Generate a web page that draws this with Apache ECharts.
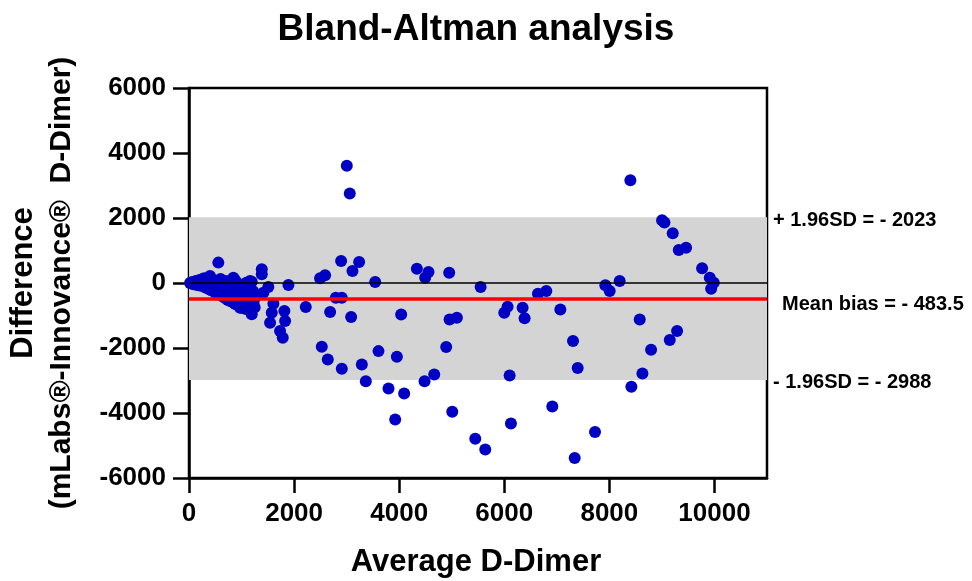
<!DOCTYPE html>
<html>
<head>
<meta charset="utf-8">
<script src="https://cdn.jsdelivr.net/npm/echarts@6/dist/echarts.min.js"></script>
<style>html,body{margin:0;padding:0;background:#fff;}#c{width:972px;height:581px;}</style>
</head>
<body>
<div id="c"></div>
<script>
// ---- data ----
const titleText = 'Bland-Altman analysis';
const xAxisTitle = 'Average D-Dimer';
const yAxisTitle1 = 'Difference';
const yAxisTitle2 = '(mLabs\u00AE-Innovance\u00AE  D-Dimer)';
const xTicks = [0, 2000, 4000, 6000, 8000, 10000];
const yTicks = [-6000, -4000, -2000, 0, 2000, 4000, 6000];
const upperLoA = 2023;
const meanBias = -483.5;
const lowerLoA = -2988;
const loaLabels = ['+ 1.96SD = - 2023', 'Mean bias = - 483.5', '- 1.96SD = - 2988'];
const avgX = [20, 60, 100, 130, 160, 200, 230, 260, 290, 300, 320, 350, 380, 400, 400, 430, 450, 460, 480, 520, 540, 558, 580, 600, 630, 660, 700, 720, 750, 780, 800, 830, 844, 860, 870, 880, 900, 930, 960, 971, 1000, 1003, 1034, 1034, 1060, 1090, 1130, 1150, 1162, 1194, 1194, 1225, 1257, 1385, 1385, 1415, 1510, 1543, 1575, 1606, 1733, 1784, 1815, 1829, 1892,
  80, 150, 200, 250, 280, 330, 370, 420, 470, 500, 550, 600, 620, 650, 680, 700, 740, 760, 790, 820, 850, 880, 910, 940, 980, 1010, 1080, 1100, 1120, 1170, 1220, 1250,
  2222, 2495, 2590, 2527, 2641, 2686, 2794, 2895, 2908, 2908, 3003, 3060, 3086, 3111, 3238, 3289, 3365, 3543, 3606, 3797, 3924, 3956, 4038, 4095, 4337, 4483, 4495, 4558, 4667, 4895, 4952, 4959, 5010, 5098, 5448, 5550, 5638,
  6000, 6063, 6102, 6127, 6349, 6387, 6641, 6800, 6914, 7067, 7308, 7340, 7397, 7727, 7924, 8006, 8196, 8400, 8419, 8578, 8629, 8794, 9003, 9048, 9149, 9206, 9289, 9321, 9460, 9765, 9911, 9987, 9937];
const diffY = [0, 30, -20, 60, 20, 90, 40, 120, 150, -120, 80, 130, 20, 180, 216, 100, -200, -30, 60, 0, -120, 627, -200, 120, -60, -250, 60, -150, -330, -100, 80, -400, 163, -250, 100, -500, 30, -350, -600, -761, -150, -761, -195, -555, -420, 10, -92, -700, 62, 40, -965, -607, -453, 422, 268, -298, -123, -1223, -915, -638, -1479, -1686, -863, -1171, -62,
  -40, -60, -80, -50, -110, -150, -180, -220, -250, -300, -330, -380, -300, -420, -400, -480, -520, -200, -560, -500, -600, -650, -600, -450, -720, -300, -800, -600, -350, -500, -250, -750,
  -740, 145, 237, -1962, -2352, -894, -453, 678, -453, -2640, 3605, 2753, -1048, 370, 647, -2506, -3020, 31, -2096, -3246, -4201, -2270, -966, -3400, 441, -3020, 163, 339, -2815, -1972, 318, -1120, -3965, -1068, -4790, -120, -5126,
  -915, -730, -2845, -4325, -760, -1088, -329, -247, -3801, -812, -1787, -5383, -2619, -4581, -72, -247, 62, 3165, -3195, -1120, -2784, -2054, 1932, 1858, -1756, 1531, -1479, 1017, 1088, 452, 163, 9, -176];

const points = avgX.map((x, i) => [x, diffY[i]]);
const FONT = '"Liberation Sans", Arial, sans-serif';

const chart = echarts.init(document.getElementById('c'), null, {renderer: 'canvas'});
const option = {
  animation: false,
  backgroundColor: '#fff',
  grid: {left: 189, right: 205, top: 88, bottom: 103, show: true, borderColor: '#000', borderWidth: 2.5, containLabel: false},
  xAxis: {
    type: 'value', min: 0, max: 11000, interval: 2000,
    splitLine: {show: false},
    axisLine: {onZero: false, lineStyle: {color: '#000', width: 2.5}},
    axisTick: {show: true, length: 15, lineStyle: {color: '#000', width: 2.5}, customValues: xTicks},
    axisLabel: {color: '#000', fontFamily: FONT, fontWeight: 'bold', fontSize: 26, margin: 23, customValues: xTicks, formatter: v => String(v)}
  },
  yAxis: {
    type: 'value', min: -6000, max: 6000, interval: 2000,
    splitLine: {show: false},
    axisLine: {onZero: false, lineStyle: {color: '#000', width: 2.5}},
    axisTick: {show: true, length: 16, lineStyle: {color: '#000', width: 2.5}, customValues: yTicks},
    axisLabel: {color: '#000', fontFamily: FONT, fontWeight: 'bold', fontSize: 26, margin: 23, customValues: yTicks, formatter: v => String(v)}
  },
  series: [
    {
      type: 'line', data: [], z: 1, silent: true,
      markArea: {silent: true, itemStyle: {color: '#d4d4d4'}, data: [[{yAxis: upperLoA}, {yAxis: lowerLoA}]]},
      markLine: {
        silent: true, symbol: 'none', label: {show: false}, animation: false,
        data: [
          {yAxis: 0, lineStyle: {color: '#000', width: 1.5, type: 'solid'}},
          {yAxis: meanBias, lineStyle: {color: '#ff0000', width: 3.5, type: 'solid'}}
        ]
      }
    },
    {
      type: 'scatter', data: points, z: 3, symbol: 'circle', symbolSize: 12,
      itemStyle: {color: '#0000c4', opacity: 1}
    }
  ]
};
chart.setOption(option);

const loaValues = [upperLoA, meanBias, lowerLoA];
const labelX = [773, 782, 773];
const labelDy = [3, 6, 2];
const graphics = [
  {type: 'text', style: {text: titleText, x: 476, y: 30, fill: '#000', font: 'bold 37px ' + FONT, textAlign: 'center', textVerticalAlign: 'middle'}},
  {type: 'text', style: {text: xAxisTitle, x: 476, y: 562, fill: '#000', font: 'bold 31px ' + FONT, textAlign: 'center', textVerticalAlign: 'middle'}},
  {type: 'text', x: 23, y: 283, rotation: Math.PI / 2, style: {text: yAxisTitle1, x: 0, y: 0, fill: '#000', font: 'bold 31px ' + FONT, textAlign: 'center', textVerticalAlign: 'middle'}},
  {type: 'text', x: 62, y: 283, rotation: Math.PI / 2, style: {text: yAxisTitle2, x: 0, y: 0, fill: '#000', font: 'bold 30px ' + FONT, textAlign: 'center', textVerticalAlign: 'middle'}}
];
loaValues.forEach((v, i) => {
  const py = chart.convertToPixel({yAxisIndex: 0}, v);
  graphics.push({type: 'text', style: {text: loaLabels[i], x: labelX[i], y: py + labelDy[i], fill: '#000', font: 'bold 20px ' + FONT, textAlign: 'left', textVerticalAlign: 'middle'}});
});
chart.setOption({graphic: graphics});
</script>
</body>
</html>
